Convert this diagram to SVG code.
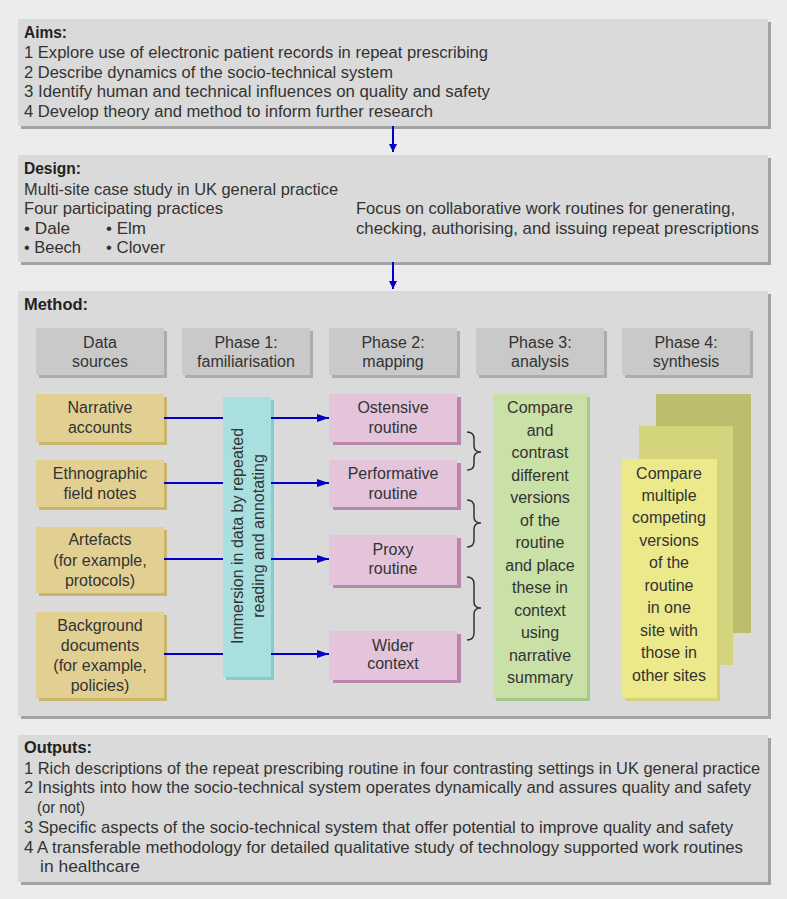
<svg xmlns="http://www.w3.org/2000/svg" width="787" height="899" viewBox="0 0 787 899">
<defs>
<style>
text{font-family:"Liberation Sans",Arial,sans-serif;fill:#333;}
.t{font-size:16px;}
.c{font-size:16px;text-anchor:middle;}
.h{font-size:16px;font-weight:bold;fill:#222;}
.cond{font-size:17px;}
.panel{fill:#dadada;}
.pshadow{fill:#a3a3a3;}
.conn{stroke:#0000c8;stroke-width:2;fill:none;}
.brace{stroke:#333;stroke-width:1.5;fill:none;}
</style>
<marker id="ah" viewBox="0 0 12 8" refX="12" refY="4" markerWidth="12" markerHeight="8" markerUnits="userSpaceOnUse" orient="auto">
<path d="M0,0 L12,4 L0,8 Z" fill="#0000c8"/>
</marker>
<marker id="ahs" viewBox="0 0 8 10" refX="8" refY="5" markerWidth="8" markerHeight="10" markerUnits="userSpaceOnUse" orient="auto">
<path d="M0,1 L8,5 L0,9 Z" fill="#0000c8"/>
</marker>
</defs>
<rect width="787" height="899" fill="#ececec"/>

<g id="aims">
<rect class="pshadow" x="21" y="22" width="750" height="107"/>
<rect class="panel" x="18" y="19" width="750" height="107"/>
<text class="h" x="24" y="38" textLength="43" lengthAdjust="spacingAndGlyphs">Aims:</text>
<text class="t" x="24" y="58" textLength="464" lengthAdjust="spacingAndGlyphs">1 Explore use of electronic patient records in repeat prescribing</text>
<text class="t" x="24" y="77.5" textLength="369" lengthAdjust="spacingAndGlyphs">2 Describe dynamics of the socio-technical system</text>
<text class="t" x="24" y="97" textLength="466" lengthAdjust="spacingAndGlyphs">3 Identify human and technical influences on quality and safety</text>
<text class="t" x="24" y="117" textLength="409" lengthAdjust="spacingAndGlyphs">4 Develop theory and method to inform further research</text>
</g>

<g id="design">
<rect class="pshadow" x="21" y="158" width="750" height="107"/>
<rect class="panel" x="18" y="155" width="750" height="107"/>
<text class="h" x="24" y="174" textLength="57" lengthAdjust="spacingAndGlyphs">Design:</text>
<text class="cond" x="24" y="195" textLength="314" lengthAdjust="spacingAndGlyphs">Multi-site case study in UK general practice</text>
<text class="cond" x="24" y="214" textLength="199" lengthAdjust="spacingAndGlyphs">Four participating practices</text>
<text class="cond" x="24" y="234" textLength="46" lengthAdjust="spacingAndGlyphs">• Dale</text>
<text class="cond" x="106" y="234" textLength="40" lengthAdjust="spacingAndGlyphs">• Elm</text>
<text class="cond" x="24" y="253" textLength="57" lengthAdjust="spacingAndGlyphs">• Beech</text>
<text class="cond" x="106" y="253" textLength="59" lengthAdjust="spacingAndGlyphs">• Clover</text>
<text class="cond" x="356" y="214" textLength="379" lengthAdjust="spacingAndGlyphs">Focus on collaborative work routines for generating,</text>
<text class="cond" x="356" y="234" textLength="403" lengthAdjust="spacingAndGlyphs">checking, authorising, and issuing repeat prescriptions</text>
</g>

<g id="method">
<rect class="pshadow" x="21" y="294" width="750" height="425"/>
<rect class="panel" x="18" y="291" width="750" height="425"/>
<text class="h" x="24" y="310" textLength="64" lengthAdjust="spacingAndGlyphs">Method:</text>
</g>

<g id="headers">
<g id="h-data"><rect x="39" y="331" width="128" height="47" fill="#adadad"/><rect x="36" y="328" width="128" height="47" fill="#c9c9c9"/>
<text class="c" x="100" y="348">Data</text><text class="c" x="100" y="367">sources</text></g>
<g id="h-p1"><rect x="185" y="331" width="128" height="47" fill="#adadad"/><rect x="182" y="328" width="128" height="47" fill="#c9c9c9"/>
<text class="c" x="246" y="348">Phase 1:</text><text class="c" x="246" y="367">familiarisation</text></g>
<g id="h-p2"><rect x="332" y="331" width="128" height="47" fill="#adadad"/><rect x="329" y="328" width="128" height="47" fill="#c9c9c9"/>
<text class="c" x="393" y="348">Phase 2:</text><text class="c" x="393" y="367">mapping</text></g>
<g id="h-p3"><rect x="479" y="331" width="128" height="47" fill="#adadad"/><rect x="476" y="328" width="128" height="47" fill="#c9c9c9"/>
<text class="c" x="540" y="348">Phase 3:</text><text class="c" x="540" y="367">analysis</text></g>
<g id="h-p4"><rect x="625" y="331" width="128" height="47" fill="#adadad"/><rect x="622" y="328" width="128" height="47" fill="#c9c9c9"/>
<text class="c" x="686" y="348">Phase 4:</text><text class="c" x="686" y="367">synthesis</text></g>
</g>

<g id="sources">
<g id="s-narrative"><rect x="39" y="397" width="128" height="48" fill="#ccb468"/><rect x="36" y="394" width="128" height="48" fill="#e2d093"/>
<text class="c" x="100" y="413">Narrative</text><text class="c" x="100" y="433">accounts</text></g>
<g id="s-ethno"><rect x="39" y="463" width="128" height="47" fill="#ccb468"/><rect x="36" y="460" width="128" height="47" fill="#e2d093"/>
<text class="c" x="100" y="479">Ethnographic</text><text class="c" x="100" y="499">field notes</text></g>
<g id="s-artefacts"><rect x="39" y="530" width="128" height="66" fill="#ccb468"/><rect x="36" y="527" width="128" height="66" fill="#e2d093"/>
<text class="c" x="100" y="545">Artefacts</text><text class="c" x="100" y="566">(for example,</text><text class="c" x="100" y="586">protocols)</text></g>
<g id="s-background"><rect x="39" y="615" width="128" height="86" fill="#ccb468"/><rect x="36" y="612" width="128" height="86" fill="#e2d093"/>
<text class="c" x="100" y="631">Background</text><text class="c" x="100" y="651">documents</text><text class="c" x="100" y="671">(for example,</text><text class="c" x="100" y="691">policies)</text></g>
</g>

<g id="phase1">
<rect x="226" y="400" width="48" height="280" fill="#80cdcd"/>
<rect x="223" y="397" width="48" height="280" fill="#a9dfdf"/>
<g transform="translate(247,536) rotate(-90)">
<text class="c" x="0" y="-4.5">Immersion in data by repeated</text>
<text class="c" x="0" y="16.5">reading and annotating</text>
</g>
</g>

<g id="phase2">
<g id="p-ostensive"><rect x="333" y="397" width="128" height="48" fill="#b987ab"/><rect x="329" y="394" width="128" height="48" fill="#e3c4da"/>
<text class="c" x="393" y="413">Ostensive</text><text class="c" x="393" y="433">routine</text></g>
<g id="p-performative"><rect x="333" y="463" width="128" height="47" fill="#b987ab"/><rect x="329" y="460" width="128" height="47" fill="#e3c4da"/>
<text class="c" x="393" y="479">Performative</text><text class="c" x="393" y="499">routine</text></g>
<g id="p-proxy"><rect x="333" y="538" width="128" height="50" fill="#b987ab"/><rect x="329" y="535" width="128" height="50" fill="#e3c4da"/>
<text class="c" x="393" y="555">Proxy</text><text class="c" x="393" y="574">routine</text></g>
<g id="p-wider"><rect x="333" y="634" width="128" height="49" fill="#b987ab"/><rect x="329" y="631" width="128" height="49" fill="#e3c4da"/>
<text class="c" x="393" y="651">Wider</text><text class="c" x="393" y="669">context</text></g>
</g>

<g id="phase3">
<rect x="496" y="397" width="94" height="304" fill="#a3c98a"/>
<rect x="493" y="394" width="94" height="304" fill="#c9e0a7"/>
<text class="c" x="540" y="413">Compare</text>
<text class="c" x="540" y="436">and</text>
<text class="c" x="540" y="458">contrast</text>
<text class="c" x="540" y="481">different</text>
<text class="c" x="540" y="503">versions</text>
<text class="c" x="540" y="526">of the</text>
<text class="c" x="540" y="548">routine</text>
<text class="c" x="540" y="571">and place</text>
<text class="c" x="540" y="593">these in</text>
<text class="c" x="540" y="616">context</text>
<text class="c" x="540" y="638">using</text>
<text class="c" x="540" y="661">narrative</text>
<text class="c" x="540" y="683">summary</text>
</g>

<g id="phase4">
<rect x="656" y="394" width="95" height="239" fill="#bdbd6e"/>
<rect x="639" y="426" width="94" height="239" fill="#d4d47c"/>
<rect x="625" y="462" width="95" height="239" fill="#d6d27a"/>
<rect x="622" y="459" width="95" height="239" fill="#ebe98a"/>
<text class="c" x="669" y="479">Compare</text>
<text class="c" x="669" y="501">multiple</text>
<text class="c" x="669" y="523">competing</text>
<text class="c" x="669" y="546">versions</text>
<text class="c" x="669" y="568">of the</text>
<text class="c" x="669" y="591">routine</text>
<text class="c" x="669" y="613">in one</text>
<text class="c" x="669" y="636">site with</text>
<text class="c" x="669" y="658">those in</text>
<text class="c" x="669" y="681">other sites</text>
</g>

<g id="outputs">
<rect class="pshadow" x="21" y="738" width="750" height="147"/>
<rect class="panel" x="18" y="735" width="750" height="147"/>
<text class="h" x="24" y="753" textLength="68" lengthAdjust="spacingAndGlyphs">Outputs:</text>
<text class="cond" x="24" y="774" textLength="736" lengthAdjust="spacingAndGlyphs">1 Rich descriptions of the repeat prescribing routine in four contrasting settings in UK general practice</text>
<text class="cond" x="24" y="793" textLength="727" lengthAdjust="spacingAndGlyphs">2 Insights into how the socio-technical system operates dynamically and assures quality and safety</text>
<text class="cond" x="37" y="813" textLength="48" lengthAdjust="spacingAndGlyphs">(or not)</text>
<text class="cond" x="24" y="833" textLength="709" lengthAdjust="spacingAndGlyphs">3 Specific aspects of the socio-technical system that offer potential to improve quality and safety</text>
<text class="cond" x="24" y="853" textLength="719" lengthAdjust="spacingAndGlyphs">4 A transferable methodology for detailed qualitative study of technology supported work routines</text>
<text class="cond" x="40" y="872" textLength="100" lengthAdjust="spacingAndGlyphs">in healthcare</text>
</g>

<g id="connectors">
<line class="conn" x1="393" y1="126" x2="393" y2="152" marker-end="url(#ahs)"/>
<line class="conn" x1="393" y1="262" x2="393" y2="289" marker-end="url(#ahs)"/>
<line class="conn" x1="164" y1="418" x2="223" y2="418"/>
<line class="conn" x1="164" y1="483" x2="223" y2="483"/>
<line class="conn" x1="164" y1="559" x2="223" y2="559"/>
<line class="conn" x1="164" y1="654" x2="223" y2="654"/>
<line class="conn" x1="271" y1="418" x2="329" y2="418" marker-end="url(#ah)"/>
<line class="conn" x1="271" y1="483" x2="329" y2="483" marker-end="url(#ah)"/>
<line class="conn" x1="271" y1="559" x2="329" y2="559" marker-end="url(#ah)"/>
<line class="conn" x1="271" y1="654" x2="329" y2="654" marker-end="url(#ah)"/>
<path class="brace" d="M467,432 Q474,432 474,439 L474,446 Q474,452 481,452 Q474,452 474,458 L474,464 Q474,470 467,470"/>
<path class="brace" d="M467,500 Q474,500 474,507 L474,517 Q474,523 481,523 Q474,523 474,529 L474,540 Q474,547 467,547"/>
<path class="brace" d="M467,577 Q474,577 474,584 L474,602 Q474,608 481,608 Q474,608 474,614 L474,633 Q474,640 467,640"/>
</g>
</svg>
